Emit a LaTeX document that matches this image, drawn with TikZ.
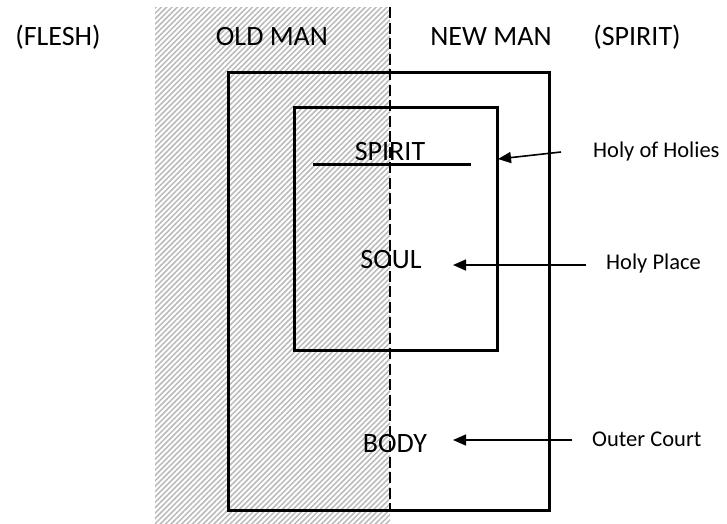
\documentclass[tikz,border=0pt]{standalone}
\usepackage{fontspec}
\setmainfont{Carlito}
\usetikzlibrary{patterns.meta,arrows.meta}
\begin{document}
\begin{tikzpicture}[x=1pt,y=-1pt,
  big/.style={font=\fontsize{28}{30}\selectfont, inner sep=0pt, anchor=base},
  small/.style={font=\fontsize{22.5}{25}\selectfont, inner sep=0pt, anchor=base west},
  box/.style={draw=black, line width=3pt},
  arr/.style={line width=1.6pt, -{Triangle[length=13pt,width=11pt]}},
  divider/.style={draw=black, line width=1.5pt, dash pattern=on 11pt off 4.5pt}]
\useasboundingbox (0,0) rectangle (727,523);
% hatched old-man area
\path[pattern={Lines[angle=45,distance=3.8pt,line width=1.5pt]}, pattern color=gray!55]
  (155,7) rectangle (390,523);
% boxes
\node[box, minimum width=321pt, minimum height=438pt, inner sep=0pt] (outer) at (388.5,291) {};
\node[box, minimum width=203pt, minimum height=243pt, inner sep=0pt] (inner) at (395.5,228.5) {};
% divider
\coordinate (dtop) at (390,7);
\coordinate (dbot) at (390,512);
\draw[divider] (dtop) -- (dbot);
% header labels
\node[big] (flesh) at (58,45) {(FLESH)};
\node[big] (oldman) at (272,45) {OLD MAN};
\node[big] (newman) at (491,45) {NEW MAN};
\node[big] (spiritH) at (637,45) {(SPIRIT)};
% inner labels
\node[big] (spirit) at (390,160) {SPIRIT};
\coordinate (ulA) at (313,164);
\coordinate (ulB) at (471,164);
\draw[line width=3pt] (ulA) -- (ulB);
\node[big] (soul) at (391,268) {SOUL};
\node[big] (body) at (395,452) {BODY};
% right labels
\node[small] (hoh) at (593,157) {Holy of Holies};
\node[small] (hp) at (606,269) {Holy Place};
\node[small] (oc) at (592,446) {Outer Court};
% arrows
\coordinate (hohS) at (561,152);
\coordinate (hohE) at (498,159);
\coordinate (hpS) at (586,265);
\coordinate (hpE) at (453,265);
\coordinate (ocS) at (572,440);
\coordinate (ocE) at (453,440);
\draw[arr] (hohS) -- (hohE);
\draw[arr] (hpS) -- (hpE);
\draw[arr] (ocS) -- (ocE);
\end{tikzpicture}
\end{document}
